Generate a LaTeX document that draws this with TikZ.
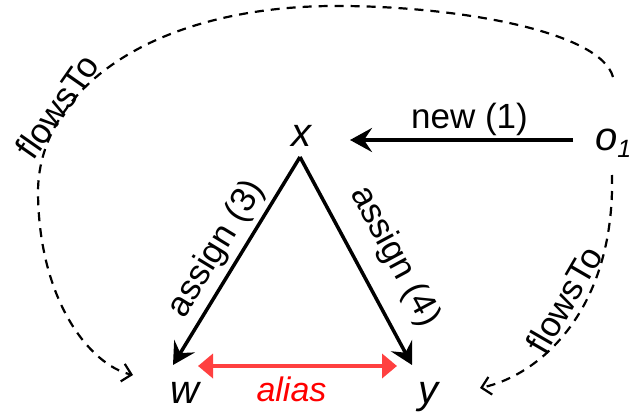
\documentclass[tikz,border=0pt]{standalone}
\usepackage{fontspec}
\setmainfont{Liberation Sans}
\usetikzlibrary{arrows.meta}
\definecolor{aliasred}{HTML}{FF4040}
\begin{document}
\begin{tikzpicture}[x=1pt,y=-1pt,
  var/.style={font=\fontsize{40}{40}\selectfont\itshape, inner sep=0pt, anchor=base},
  lbl/.style={font=\fontsize{35}{35}\selectfont, inner sep=3pt},
  solidarrow/.style={line width=3.5pt, -{Stealth[length=22pt,width=24pt,inset=8pt]}},
  flow/.style={line width=2.2pt, dash pattern=on 9pt off 7pt, -{Straight Barb[length=9pt,width=18pt]}},
  aliasarrow/.style={aliasred, line width=4.5pt, {Triangle[length=15pt,width=24pt]}-{Triangle[length=15pt,width=24pt]}}
]
\useasboundingbox (0,0) rectangle (639,414);
\node[var] (x) at (301,147) {x};
\node[var, anchor=base west] (o) at (595,150) {o\raisebox{-7pt}{\fontsize{25}{25}\selectfont 1}};
\node[var] (w) at (185,403) {w};
\node[var] (y) at (428,403) {y};

\draw[solidarrow] ([shift={(-22,-10)}]o.base west) -- node[lbl, above, xshift=8pt] {new (1)} ([shift={(49,-7)}]x.base);
\draw[solidarrow] ([shift={(-1,10)}]x.base) -- node[lbl, sloped, above=2pt, pos=0.5] {assign (3)} ([shift={(-12,-38)}]w.base);
\draw[solidarrow] ([shift={(-1,10)}]x.base) -- node[lbl, sloped, above=15pt, pos=0.56] {assign (4)} ([shift={(-16,-38)}]y.base);
\draw[aliasarrow] ([shift={(13,-37)}]w.base) -- node[below=9pt, xshift=-6pt, font=\fontsize{34}{34}\selectfont\itshape, text=red, inner sep=0pt] {alias} ([shift={(-31,-37)}]y.base);

\draw[flow] ([shift={(18,-73)}]o.base west) .. controls (600,30) and (450,5) .. (330,6)
  .. controls (150,8) and (40,90) .. node[lbl, sloped, pos=0.72, above=-8pt] {flowsTo} (38,190)
  .. controls (38,300) and (90,365) .. ([shift={(-52,-28)}]w.base);
\draw[flow] ([shift={(17,25)}]o.base west) .. controls (615,310) and (540,375) .. node[lbl, sloped, pos=0.42, above=3pt] {flowsTo} ([shift={(52,-15)}]y.base);
\end{tikzpicture}
\end{document}
